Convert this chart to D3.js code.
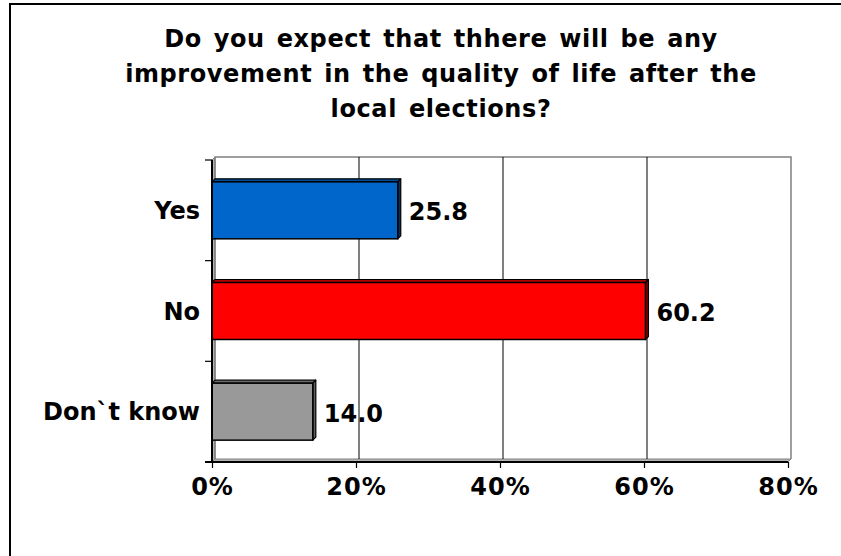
<!DOCTYPE html>
<html>
<head>
<meta charset="utf-8">
<script src="https://cdn.jsdelivr.net/npm/d3@7"></script>
<style>
  html, body { margin: 0; padding: 0; background: #fff; overflow: hidden; }
  svg { display: block; }
  svg text { font-family: "DejaVu Sans", Verdana, sans-serif; font-weight: bold; fill: #000; }
</style>
</head>
<body>
<svg id="chart" width="841" height="556"></svg>
<script>
// Survey answers (percent of respondents)
const categories = ["Yes", "No", "Don`t know"];
const values = [25.8, 60.2, 14.0];
const barColors = ["#0066CC", "#FF0000", "#999999"];
const topColors = ["#004C99", "#B00000", "#6E6E6E"];
const sideColors = ["#003366", "#800000", "#606060"];
const tickValues = [0, 20, 40, 60, 80];
const titleLines = [
  "Do you expect that thhere will be any",
  "improvement in the quality of life after the",
  "local elections?"
];

const svg = d3.select("#chart");

// outer frame
svg.append("rect")
  .attr("x", 10).attr("y", 4).attr("width", 1000).attr("height", 1000)
  .attr("fill", "none").attr("stroke", "#000").attr("stroke-width", 2);

// title
svg.append("text")
  .attr("text-anchor", "middle")
  .attr("letter-spacing", "0.6px")
  .attr("word-spacing", "3px")
  .style("font-size", "24px")
  .selectAll("tspan")
  .data(titleLines)
  .join("tspan")
  .attr("x", 441)
  .attr("y", (d, i) => 46.5 + i * 35)
  .text(d => d);

// pseudo-3D plot geometry: front plane and a back wall offset by depth
const depth = 3;
const plotTop = 160, plotBottom = 462;
const x = d3.scaleLinear().domain([0, 80]).range([212, 788]);
const y = d3.scaleBand().domain(categories).range([plotTop, plotBottom])
  .paddingInner(0.434).paddingOuter(0.217);
const yAxisBand = d3.scaleBand().domain(categories).range([plotTop, plotBottom]);

const bx = v => x(v) + depth;       // back wall x
const backTop = plotTop - depth, backBottom = plotBottom - depth;

// left side wall and floor
svg.append("polygon")
  .attr("points", [[x(0), plotTop], [bx(0), backTop], [bx(0), backBottom], [x(0), plotBottom]].join(" "))
  .attr("fill", "#B4B4B4").attr("stroke", "#808080").attr("stroke-width", 1);
svg.append("polygon")
  .attr("points", [[x(0), plotBottom], [bx(0), backBottom], [bx(80), backBottom], [x(80), plotBottom]].join(" "))
  .attr("fill", "#B4B4B4").attr("stroke", "#808080").attr("stroke-width", 1);

// back wall outline
svg.append("path")
  .attr("d", `M${bx(0)},${backBottom}V${backTop}H${bx(80)}V${backBottom}`)
  .attr("fill", "none").attr("stroke", "#808080").attr("stroke-width", 1.5);

// vertical gridlines on the back wall
svg.append("g").selectAll("line")
  .data(tickValues.filter(t => t > 0 && t < 80))
  .join("line")
  .attr("x1", d => bx(d)).attr("x2", d => bx(d))
  .attr("y1", backTop).attr("y2", backBottom)
  .attr("stroke", "#000").attr("stroke-width", 1);

// bars: front face, top face and right side face
const bars = svg.append("g").selectAll("g")
  .data(categories.map((c, i) => ({ c, v: values[i], i })))
  .join("g");

bars.append("polygon")
  .attr("points", d => {
    const y0 = y(d.c), x0 = x(0), x1 = x(d.v);
    return [[x0, y0], [x0 + depth, y0 - depth], [x1 + depth, y0 - depth], [x1, y0]].join(" ");
  })
  .attr("fill", d => topColors[d.i]).attr("stroke", "#000").attr("stroke-width", 1.2)
  .attr("stroke-linejoin", "round");

bars.append("polygon")
  .attr("points", d => {
    const y0 = y(d.c), y1 = y0 + y.bandwidth(), x1 = x(d.v);
    return [[x1, y0], [x1 + depth, y0 - depth], [x1 + depth, y1 - depth], [x1, y1]].join(" ");
  })
  .attr("fill", d => sideColors[d.i]).attr("stroke", "#000").attr("stroke-width", 1.2)
  .attr("stroke-linejoin", "round");

bars.append("rect")
  .attr("x", x(0)).attr("y", d => y(d.c))
  .attr("width", d => x(d.v) - x(0)).attr("height", y.bandwidth())
  .attr("fill", d => barColors[d.i]).attr("stroke", "#000").attr("stroke-width", 1.5);

// value labels
bars.append("text")
  .attr("x", d => x(d.v) + depth + 8)
  .attr("y", d => y(d.c) + y.bandwidth() / 2 + 10)
  .style("font-size", "24px")
  .text(d => d.v.toFixed(1));

// front axes
const xAxis = d3.axisBottom(x).tickValues(tickValues).tickSize(6).tickPadding(10)
  .tickFormat(d => d + "%");
const gx = svg.append("g").attr("transform", `translate(0,${plotBottom})`).call(xAxis);
gx.select(".domain").attr("stroke", "#000").attr("stroke-width", 2).attr("d", `M${x(0) - 7},0H${x(80)}`);
gx.selectAll(".tick line").attr("stroke", "#000").attr("stroke-width", 1.2);
gx.selectAll(".tick text").style("font-size", "24px").attr("fill", "#000")
  .attr("letter-spacing", "1px").attr("dy", "0.71em");

const yAxis = d3.axisLeft(yAxisBand).tickSize(0).tickPadding(12);
const gy = svg.append("g").attr("transform", `translate(${x(0)},0)`).call(yAxis);
gy.select(".domain").attr("stroke", "#000").attr("stroke-width", 2).attr("d", `M0,${plotTop}V${plotBottom}`);
gy.selectAll(".tick text").style("font-size", "24px").attr("fill", "#000")
  .attr("x", -12).attr("dy", "0.36em");

// category boundary ticks on the vertical axis
svg.append("g").selectAll("line")
  .data(d3.range(categories.length + 1))
  .join("line")
  .attr("x1", x(0) - 7).attr("x2", x(0))
  .attr("y1", i => plotTop + i * yAxisBand.step())
  .attr("y2", i => plotTop + i * yAxisBand.step())
  .attr("stroke", "#000").attr("stroke-width", 1.2);
</script>
</body>
</html>
